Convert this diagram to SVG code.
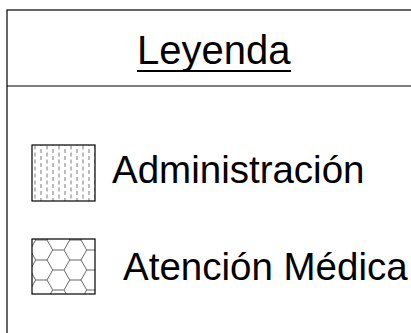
<svg xmlns="http://www.w3.org/2000/svg" width="411" height="333" viewBox="0 0 411 333">
  <style>
    .frame { fill: #ffffff; stroke: #000000; stroke-width: 1.2; }
    .lbl { font-family: "Liberation Sans", Arial, sans-serif; fill: #000000; }
    .title { font-size: 40px; }
    .item { font-size: 38.5px; }
    .swatch { stroke: #000000; stroke-width: 1.2; }
  </style>
  <defs>
    <pattern id="dashes" patternUnits="userSpaceOnUse" x="32" y="145" width="12" height="7">
      <line x1="3" y1="0.5" x2="3" y2="4.5" stroke="#7a7a7a" stroke-width="1"/>
      <line x1="9" y1="4" x2="9" y2="8" stroke="#7a7a7a" stroke-width="1"/>
      <line x1="9" y1="-3" x2="9" y2="1" stroke="#7a7a7a" stroke-width="1"/>
    </pattern>
    <pattern id="hex" patternUnits="userSpaceOnUse" x="30" y="240" width="34" height="20">
      <path d="M0,10 L5.7,0 L17,0 L22.7,10 L17,20 L5.7,20 Z M22.7,10 L34,10" fill="none" stroke="#666666" stroke-width="1"/>
    </pattern>
  </defs>
  <rect width="411" height="333" fill="#ffffff"/>
  <g id="legend-frame">
    <rect class="frame" x="7" y="10" width="420" height="340"/>
    <line x1="7" y1="86" x2="411" y2="86" stroke="#000000" stroke-width="1.2"/>
  </g>
  <g id="title">
    <text class="lbl title" x="137" y="64">Leyenda</text>
    <line x1="137" y1="71" x2="291" y2="71" stroke="#000000" stroke-width="2"/>
  </g>
  <g id="item-administracion">
    <rect class="swatch" x="32" y="145" width="63" height="56" fill="url(#dashes)"/>
    <text class="lbl item" x="112" y="183">Administración</text>
  </g>
  <g id="item-atencion-medica">
    <rect class="swatch" x="32" y="239" width="63" height="55" fill="url(#hex)"/>
    <text class="lbl item" x="123" y="280">Atención Médica</text>
  </g>
  <g id="connectors"></g>
</svg>
